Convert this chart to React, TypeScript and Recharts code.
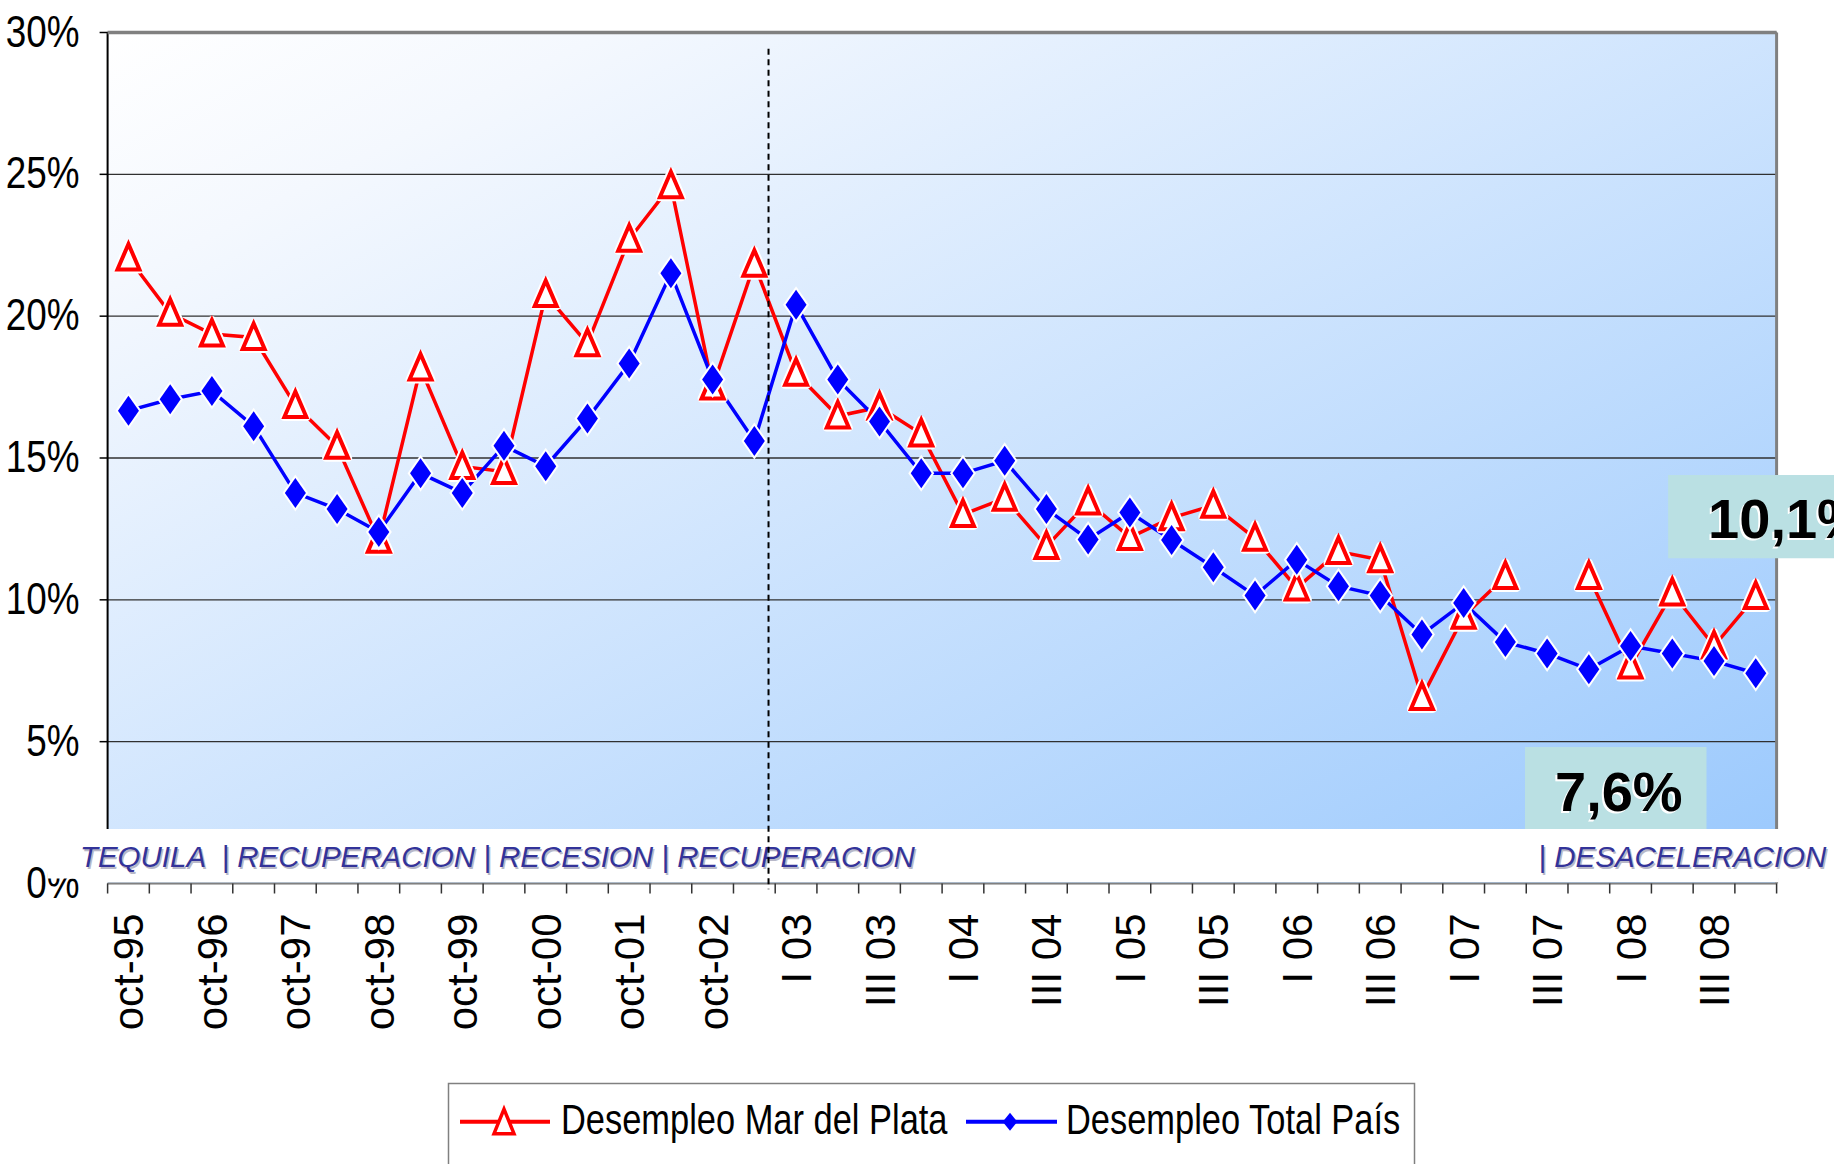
import React from 'react';
import {
  LineChart,
  Line,
  XAxis,
  YAxis,
  CartesianGrid,
  ReferenceLine,
  ReferenceArea,
  Legend,
} from 'recharts';

// ---------------- data ----------------
const categories = [
  'oct-95', 'may-96', 'oct-96', 'may-97', 'oct-97', 'may-98', 'oct-98', 'may-99',
  'oct-99', 'may-00', 'oct-00', 'may-01', 'oct-01', 'may-02', 'oct-02', 'may-03',
  'I 03', 'II 03', 'III 03', 'IV 03', 'I 04', 'II 04', 'III 04', 'IV 04',
  'I 05', 'II 05', 'III 05', 'IV 05', 'I 06', 'II 06', 'III 06', 'IV 06',
  'I 07', 'II 07', 'III 07', 'IV 07', 'I 08', 'II 08', 'III 08', 'IV 08',
];

const marDelPlata: (number | null)[] = [
  22.05, 20.1, 19.37, 19.25, 16.85, 15.41, 12.1, 18.17,
  14.7, 14.52, 20.76, 19.03, 22.71, 24.6, 17.5, 21.83,
  17.99, 16.48, 16.79, 15.85, 13.01, 13.58, 11.88, 13.45,
  12.2, 12.89, 13.33, 12.17, 10.42, 11.7, 11.41, 6.56,
  9.42, 10.82, null, 10.82, 7.67, 10.24, 8.37, 10.12,
];

const totalPais: number[] = [
  16.67, 17.07, 17.36, 16.12, 13.77, 13.2, 12.39, 14.46,
  13.77, 15.43, 14.71, 16.39, 18.33, 21.51, 17.77, 15.6,
  20.4, 17.77, 16.29, 14.46, 14.46, 14.9, 13.2, 12.13,
  13.08, 12.11, 11.15, 10.15, 11.41, 10.48, 10.15, 8.78,
  9.89, 8.51, 8.11, 7.55, 8.37, 8.11, 7.84, 7.41,
];

const yTicks = [0, 5, 10, 15, 20, 25, 30];

const seriesNames = ['Desempleo Mar del Plata', 'Desempleo Total País'];
const periodsLeft = 'TEQUILA  | RECUPERACION | RECESION | RECUPERACION';
const periodsRight = '| DESACELERACION';
const lastMdpLabel = '10,1%';
const lastPaisLabel = '7,6%';

const data = categories.map((cat, i) => ({
  i,
  cat,
  mdp: marDelPlata[i],
  pais: totalPais[i],
}));

// ---------------- fonts ----------------
function hasFont(name: string): boolean {
  try {
    const c = document.createElement('canvas');
    const ctx = c.getContext('2d');
    if (!ctx) return false;
    const s = 'Desempleo Mar del Plata 0123456789%';
    ctx.font = '40px monospace';
    const a = ctx.measureText(s).width;
    ctx.font = `40px "${name}", monospace`;
    const b = ctx.measureText(s).width;
    ctx.font = '40px serif';
    const c1 = ctx.measureText(s).width;
    ctx.font = `40px "${name}", serif`;
    const d = ctx.measureText(s).width;
    return a !== b || c1 !== d;
  } catch (e) {
    return false;
  }
}

const NARROW = typeof document !== 'undefined' ? hasFont('Liberation Sans Narrow') : false;
const SANS = "'Liberation Sans', Arial, Helvetica, sans-serif";

function NText(props: {
  x: number;
  y: number;
  size: number;
  anchor?: 'start' | 'end' | 'middle';
  fill?: string;
  children: React.ReactNode;
}) {
  const { x, y, size, anchor = 'start', fill = '#000', children } = props;
  if (NARROW) {
    return (
      <text
        x={x}
        y={y}
        fontFamily="'Liberation Sans Narrow', 'Arial Narrow', sans-serif"
        fontSize={size}
        textAnchor={anchor}
        fill={fill}
      >
        {children}
      </text>
    );
  }
  return (
    <text
      transform={`translate(${x},${y}) scale(0.82,1)`}
      x={0}
      y={0}
      fontFamily={SANS}
      fontSize={size}
      textAnchor={anchor}
      fill={fill}
    >
      {children}
    </text>
  );
}

// ---------------- renderers ----------------
const X_TICK_MARGIN = 30;

const YTick = (props: any) => {
  const { x, y, payload } = props;
  const isZero = payload.value === 0;
  return (
    <g>
      {!isZero && <line x1={x + 20} x2={x + 28} y1={y} y2={y} stroke="#000" strokeWidth={1.5} />}
      <NText x={x} y={y + 14} size={45} anchor="end">
        {`${payload.value}%`}
      </NText>
      {isZero && <rect x={x - 32} y={y - 54.5} width={32} height={49.5} fill="#fff" />}
    </g>
  );
};

const XTick = (props: any) => {
  const { x, y, payload, index } = props;
  let half = payload && payload.offset ? payload.offset : 0;
  if (!half) half = props.width ? props.width / categories.length / 2 : 20.86;
  const axisY = y - X_TICK_MARGIN;
  const last = index === categories.length - 1;
  return (
    <g>
      <line x1={x - half} x2={x - half} y1={axisY} y2={axisY + 10} stroke="#333" strokeWidth={1.5} />
      {last && (
        <line x1={x + half} x2={x + half} y1={axisY} y2={axisY + 10} stroke="#333" strokeWidth={1.5} />
      )}
      {index % 2 === 0 && (
        <text
          x={x}
          y={y}
          dy={15}
          transform={`rotate(-90 ${x} ${y})`}
          textAnchor="end"
          fontFamily={SANS}
          fontSize={42}
          fill="#000"
          style={{ whiteSpace: 'pre' }}
        >
          {payload.value}
        </text>
      )}
    </g>
  );
};

const TriangleDot = (props: any) => {
  const { cx, cy, value } = props;
  if (cx == null || cy == null || value == null || Number.isNaN(cy)) return null;
  const pts = `${cx},${cy - 14} ${cx + 11},${cy + 11.5} ${cx - 11},${cy + 11.5}`;
  return (
    <g>
      <polygon points={pts} fill="#fff" stroke="#fff" strokeWidth={8} strokeLinejoin="round" />
      <polygon points={pts} fill="#fff" stroke="#ff0000" strokeWidth={4} />
    </g>
  );
};

const DiamondDot = (props: any) => {
  const { cx, cy, value } = props;
  if (cx == null || cy == null || value == null || Number.isNaN(cy)) return null;
  const inner = `${cx},${cy - 15} ${cx + 10.5},${cy} ${cx},${cy + 15} ${cx - 10.5},${cy}`;
  const outer = `${cx},${cy - 18.5} ${cx + 13},${cy} ${cx},${cy + 18.5} ${cx - 13},${cy}`;
  return (
    <g>
      <polygon points={outer} fill="#fff" />
      <polygon points={inner} fill="#0000ff" />
    </g>
  );
};

const BandLabel = (props: any) => {
  const vb = props.viewBox || {};
  const x = vb.x ?? 0;
  const y = vb.y ?? 0;
  const w = vb.width ?? 0;
  const base = y + 38;
  const common = {
    fontFamily: SANS,
    fontSize: 29.5,
    fontStyle: 'italic' as const,
    style: { whiteSpace: 'pre' as const },
  };
  return (
    <g>
      <text x={x + 33.5} y={base + 1.5} fill="#b8b8c8" {...common}>{periodsLeft}</text>
      <text x={x + 32} y={base} fill="#333399" {...common}>{periodsLeft}</text>
      <text x={x + w - 15.5} y={base + 1.5} fill="#b8b8c8" textAnchor="end" {...common}>{periodsRight}</text>
      <text x={x + w - 17} y={base} fill="#333399" textAnchor="end" {...common}>{periodsRight}</text>
    </g>
  );
};

const ValueLabel = (props: any) => {
  const vb = props.viewBox || {};
  const x = (vb.x ?? 0) + props.dx0;
  const y = (vb.y ?? 0) + props.dy0;
  const common = { fontFamily: SANS, fontSize: 56, fontWeight: 700 as const };
  return (
    <g>
      <text x={x - 2} y={y + 2} fill="#fff" {...common}>{props.text}</text>
      <text x={x} y={y} fill="#000" {...common}>{props.text}</text>
    </g>
  );
};

const LegendBox = (props: any) => {
  const payload = props.payload || [];
  const name0 = payload[0]?.value ?? seriesNames[0];
  const name1 = payload[1]?.value ?? seriesNames[1];
  const c0 = payload[0]?.color ?? '#ff0000';
  const c1 = payload[1]?.color ?? '#0000ff';
  const ly = 38.7;
  return (
    <svg width={1834} height={81} style={{ display: 'block', overflow: 'visible' }}>
      <rect x={448.5} y={0.5} width={966} height={120} fill="#fff" stroke="#808080" strokeWidth={1.5} />
      <line x1={460} x2={550} y1={ly} y2={ly} stroke={c0} strokeWidth={4} />
      <polygon
        points={`504,${ly - 12.5} 514,${ly + 12} 494,${ly + 12}`}
        fill="#fff"
        stroke={c0}
        strokeWidth={3.5}
      />
      <NText x={561} y={51} size={42}>{name0}</NText>
      <line x1={966} x2={1057} y1={ly} y2={ly} stroke={c1} strokeWidth={4} />
      <polygon
        points={`1010,${ly - 9} 1017.3,${ly} 1010,${ly + 9} 1002.7,${ly}`}
        fill={c1}
      />
      <NText x={1066} y={51} size={42}>{name1}</NText>
    </svg>
  );
};

// ---------------- chart ----------------
export default function App() {
  return (
    <div
      style={{
        position: 'absolute',
        left: 0,
        top: 0,
        width: 1834,
        height: 1164,
        overflow: 'hidden',
        background: '#fff',
      }}
    >
      <LineChart
        width={1834}
        height={1164}
        data={data}
        margin={{ top: 32.5, right: 57.4, left: 0, bottom: 0 }}
      >
        <defs>
          <linearGradient id="plotBg" x1="0" y1="0" x2="1" y2="1">
            <stop offset="0" stopColor="#ffffff" />
            <stop offset="0.15" stopColor="#f4f8fe" />
            <stop offset="1" stopColor="#99c8fd" />
          </linearGradient>
        </defs>
        <CartesianGrid
          vertical={false}
          horizontal
          fill="url(#plotBg)"
          fillOpacity={1}
          stroke="#303030"
          strokeWidth={1.3}
        />
        <XAxis
          dataKey="cat"
          scale="band"
          interval={0}
          height={199.5}
          tickSize={0}
          tickMargin={X_TICK_MARGIN}
          tickLine={false}
          axisLine={{ stroke: '#808080', strokeWidth: 1.5 }}
          tick={<XTick />}
        />
        <XAxis xAxisId="n" type="number" dataKey="i" domain={[0, 40]} allowDataOverflow hide />
        <YAxis
          width={107.6}
          domain={[0, 30]}
          ticks={yTicks}
          interval={0}
          tickSize={0}
          tickMargin={28}
          tickLine={false}
          axisLine={false}
          tick={<YTick />}
          allowDataOverflow
        />
        <ReferenceLine
          xAxisId="n"
          segment={[
            { x: 0, y: 30 },
            { x: 0, y: 1.9 },
          ]}
          stroke="#000"
          strokeWidth={2}
          ifOverflow="visible"
        />
        <ReferenceLine y={30} stroke="#808080" strokeWidth={3.5} ifOverflow="visible" />
        <ReferenceLine xAxisId="n" x={40} stroke="#808080" strokeWidth={3} ifOverflow="visible" />
        <Line
          name={seriesNames[0]}
          dataKey="mdp"
          stroke="#ff0000"
          strokeWidth={3.5}
          dot={<TriangleDot />}
          activeDot={false}
          isAnimationActive={false}
        />
        <Line
          name={seriesNames[1]}
          dataKey="pais"
          stroke="#0000ff"
          strokeWidth={3.5}
          dot={<DiamondDot />}
          activeDot={false}
          isAnimationActive={false}
        />
        <ReferenceArea
          xAxisId="n"
          x1={-1.43}
          x2={41.6}
          y1={0.19}
          y2={1.92}
          fill="#ffffff"
          fillOpacity={1}
          stroke="none"
          ifOverflow="visible"
          zIndex={1600}
          label={<BandLabel />}
        />
        <ReferenceArea
          xAxisId="n"
          x1={-0.07}
          x2={40.05}
          y1={0.04}
          y2={0.2}
          fill="#ffffff"
          fillOpacity={1}
          stroke="none"
          ifOverflow="visible"
          zIndex={1600}
        />
        <ReferenceArea
          xAxisId="n"
          x1={37.4}
          x2={41.6}
          y1={11.47}
          y2={14.4}
          fill="#bae0e3"
          fillOpacity={1}
          stroke="none"
          ifOverflow="visible"
          zIndex={1600}
          label={<ValueLabel text={lastMdpLabel} dx0={40} dy0={63} />}
        />
        <ReferenceArea
          xAxisId="n"
          x1={33.97}
          x2={38.32}
          y1={1.92}
          y2={4.81}
          fill="#bae0e3"
          fillOpacity={1}
          stroke="none"
          ifOverflow="visible"
          zIndex={1600}
          label={<ValueLabel text={lastPaisLabel} dx0={30} dy0={64} />}
        />
        <ReferenceLine
          xAxisId="n"
          segment={[
            { x: 15.84, y: 29.43 },
            { x: 15.84, y: -0.2 },
          ]}
          stroke="#000"
          strokeWidth={2}
          strokeDasharray="6 4.5"
          ifOverflow="visible"
          zIndex={1700}
        />
        <Legend
          verticalAlign="bottom"
          height={81}
          content={<LegendBox />}
          wrapperStyle={{ left: 0, bottom: 0, width: 1834, height: 81 }}
        />
      </LineChart>
    </div>
  );
}
